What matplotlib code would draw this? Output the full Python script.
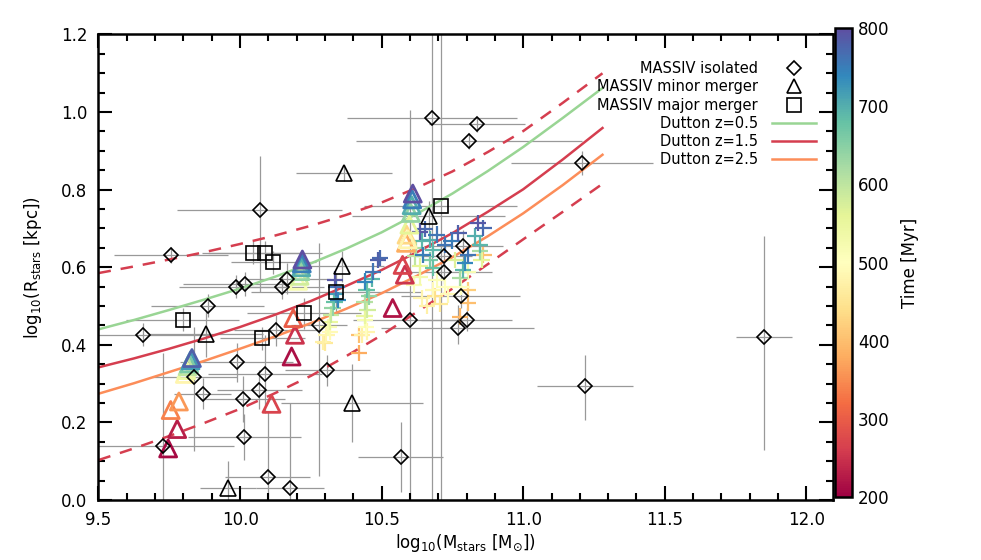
import numpy as np
import matplotlib
matplotlib.use('Agg')
import matplotlib.pyplot as plt
from matplotlib.lines import Line2D
from matplotlib.colors import Normalize
from matplotlib.ticker import MultipleLocator

plt.rcParams['font.family'] = ['DejaVu Sans']
plt.rcParams['mathtext.default'] = 'regular'

# Dutton relations
dutton_m = [9.5, 9.625, 9.75, 9.875, 10.0, 10.125, 10.25, 10.375, 10.5, 10.625,
            10.75, 10.875, 11.0, 11.14, 11.28]
dutton_z05 = [0.44, 0.464, 0.49, 0.517, 0.545, 0.576, 0.61, 0.648, 0.69, 0.738,
              0.79, 0.848, 0.91, 0.985, 1.062]
dutton_z15 = [0.342, 0.365, 0.39, 0.417, 0.446, 0.478, 0.513, 0.552, 0.593, 0.639,
              0.688, 0.743, 0.801, 0.878, 0.959]
dutton_z25 = [0.274, 0.301, 0.33, 0.359, 0.39, 0.422, 0.456, 0.493, 0.533, 0.578,
              0.626, 0.68, 0.739, 0.812, 0.89]
dutton_z15_hi = [0.585, 0.602, 0.62, 0.639, 0.66, 0.682, 0.707, 0.735, 0.767, 0.805,
                 0.847, 0.897, 0.951, 1.024, 1.10]
dutton_z15_lo = [0.103, 0.133, 0.165, 0.199, 0.235, 0.276, 0.32, 0.371, 0.425, 0.485,
                 0.545, 0.608, 0.672, 0.743, 0.815]

# MASSIV isolated: mass, radius, mass error, radius error low / high
iso_m = [9.756, 10.069, 9.985, 10.017, 10.147, 10.167, 9.886, 9.658, 10.127, 10.279,
         9.838, 9.988, 9.868, 10.009, 10.088, 10.068, 10.308, 9.729, 10.015, 10.097,
         10.178, 10.679, 10.838, 10.808, 11.208, 10.788, 10.720, 10.720, 10.779, 10.800,
         10.768, 10.600, 10.568, 11.218, 11.850]
iso_r = [0.632, 0.747, 0.550, 0.557, 0.548, 0.570, 0.501, 0.426, 0.437, 0.452,
         0.316, 0.355, 0.274, 0.260, 0.325, 0.284, 0.334, 0.138, 0.162, 0.060,
         0.030, 0.985, 0.968, 0.925, 0.869, 0.655, 0.628, 0.587, 0.525, 0.465,
         0.443, 0.465, 0.111, 0.295, 0.420]
iso_dm = [0.20, 0.29, 0.20, 0.22, 0.15, 0.15, 0.20, 0.25, 0.15, 0.10,
          0.15, 0.20, 0.10, 0.15, 0.20, 0.15, 0.15, 0.25, 0.20, 0.15,
          0.12, 0.30, 0.17, 0.40, 0.25, 0.14, 0.10, 0.17, 0.21, 0.16,
          0.27, 0.20, 0.15, 0.17, 0.10]
iso_dr_lo = [0.02, 0.21, 0.03, 0.03, 0.03, 0.04, 0.03, 0.03, 0.04, 0.39,
             0.19, 0.05, 0.04, 0.06, 0.10, 0.05, 0.04, 0.14, 0.06, 0.06,
             0.03, 0.985, 0.02, 0.02, 0.03, 0.04, 0.03, 0.03, 0.03, 0.03,
             0.04, 0.47, 0.09, 0.09, 0.29]
iso_dr_hi = [0.02, 0.14, 0.03, 0.03, 0.03, 0.04, 0.03, 0.03, 0.04, 0.21,
             0.13, 0.05, 0.04, 0.06, 0.10, 0.05, 0.04, 0.24, 0.06, 0.17,
             0.22, 0.40, 0.02, 0.02, 0.03, 0.04, 0.03, 0.03, 0.03, 0.03,
             0.06, 0.54, 0.09, 0.08, 0.26]

# MASSIV minor mergers
minor_m = [10.359, 9.880, 9.958, 10.395, 10.367, 10.667]
minor_r = [0.602, 0.428, 0.030, 0.250, 0.843, 0.731]
minor_dm = [0.15, 0.20, 0.10, 0.25, 0.17, 0.27]
minor_dr_lo = [0.04, 0.06, 0.03, 0.10, 0.02, 0.04]
minor_dr_hi = [0.04, 0.06, 0.07, 0.10, 0.02, 0.04]

# MASSIV major mergers
major_m = [10.047, 10.088, 10.117, 9.797, 10.226, 10.078, 10.339, 10.708]
major_r = [0.638, 0.638, 0.613, 0.465, 0.482, 0.417, 0.535, 0.758]
major_dm = [0.18, 0.20, 0.15, 0.20, 0.20, 0.15, 0.30, 0.27]
major_dr_lo = [0.03, 0.03, 0.03, 0.03, 0.04, 0.03, 0.05, 0.758]
major_dr_hi = [0.03, 0.03, 0.03, 0.03, 0.04, 0.03, 0.05, 0.50]

# simulation snapshots shown as triangles (mass, radius, time in Myr)
simtri_m = [9.746, 9.778, 9.755, 9.784, 9.805, 9.810, 9.815, 9.820, 9.825, 9.830,
            10.182, 10.194, 10.188, 10.111, 10.205, 10.210, 10.213, 10.216, 10.218, 10.220,
            10.539, 10.574, 10.582, 10.586, 10.588, 10.592, 10.598, 10.603, 10.606, 10.608, 10.610]
simtri_r = [0.133, 0.183, 0.232, 0.254, 0.325, 0.335, 0.345, 0.352, 0.360, 0.366,
            0.370, 0.426, 0.469, 0.248, 0.565, 0.578, 0.590, 0.600, 0.610, 0.620,
            0.495, 0.606, 0.581, 0.663, 0.684, 0.672, 0.710, 0.740, 0.760, 0.775, 0.790]
simtri_t = [210, 230, 340, 360, 480, 540, 600, 660, 720, 780,
            215, 250, 300, 270, 520, 580, 640, 700, 750, 800,
            220, 270, 250, 380, 430, 480, 560, 640, 700, 750, 800]

# simulation snapshots shown as crosses
simx_m = [10.335, 10.340, 10.338, 10.333, 10.327, 10.322, 10.318, 10.312, 10.305, 10.300,
          10.345, 10.293, 10.317,
          10.488, 10.470, 10.441, 10.465, 10.447, 10.455, 10.440, 10.450, 10.440, 10.441,
          10.445, 10.420, 10.420, 10.430, 10.447, 10.494,
          10.635, 10.653, 10.694, 10.670, 10.641, 10.771, 10.724, 10.747, 10.841, 10.859,
          10.830, 10.847, 10.647, 10.682, 10.670, 10.623, 10.617, 10.635, 10.682, 10.806,
          10.794, 10.788, 10.776, 10.847, 10.853, 10.859, 10.759, 10.635, 10.694, 10.724,
          10.682, 10.641, 10.688, 10.806, 10.806, 10.806, 10.776, 10.782,
          10.660, 10.705, 10.735, 10.615]
simx_r = [0.568, 0.548, 0.530, 0.510, 0.495, 0.478, 0.460, 0.445, 0.425, 0.406,
          0.515, 0.407, 0.433,
          0.619, 0.589, 0.563, 0.570, 0.542, 0.525, 0.510, 0.490, 0.475, 0.465,
          0.445, 0.426, 0.379, 0.426, 0.434, 0.624,
          0.692, 0.699, 0.684, 0.671, 0.667, 0.688, 0.658, 0.667, 0.714, 0.701,
          0.680, 0.658, 0.632, 0.645, 0.619, 0.650, 0.628, 0.602, 0.598, 0.632,
          0.611, 0.594, 0.572, 0.641, 0.619, 0.632, 0.619, 0.576, 0.568, 0.550,
          0.542, 0.521, 0.525, 0.589, 0.542, 0.508, 0.473, 0.550,
          0.500, 0.505, 0.530, 0.555]
simx_t = [790, 760, 720, 680, 640, 590, 550, 520, 480, 460,
          740, 470, 490,
          780, 760, 740, 690, 680, 640, 610, 580, 550, 520,
          500, 400, 380, 470, 480, 770,
          790, 770, 760, 700, 690, 780, 760, 750, 790, 770,
          700, 690, 750, 690, 660, 620, 600, 560, 680, 760,
          740, 690, 620, 620, 560, 400, 570, 530, 510, 500,
          490, 480, 440, 520, 420, 400, 390, 500,
          470, 460, 490, 510]

fig = plt.figure(figsize=(9.81, 5.60), dpi=100)
ax = fig.add_axes([0.1004, 0.1071, 0.7487, 0.8313])
cax = fig.add_axes([0.8512, 0.1125, 0.0176, 0.8375])

norm = Normalize(vmin=200, vmax=800)
cmap = plt.cm.Spectral
ebar = dict(fmt='none', ecolor='0.6', elinewidth=0.9, capsize=0, zorder=1)

ax.errorbar(iso_m, iso_r, xerr=iso_dm, yerr=[iso_dr_lo, iso_dr_hi], **ebar)
ax.errorbar(minor_m, minor_r, xerr=minor_dm, yerr=[minor_dr_lo, minor_dr_hi], **ebar)
ax.errorbar(major_m, major_r, xerr=major_dm, yerr=[major_dr_lo, major_dr_hi], **ebar)

ax.plot(dutton_m, dutton_z05, color='#99d594', lw=1.8, zorder=2)
ax.plot(dutton_m, dutton_z15, color='#d53e4f', lw=1.8, zorder=2)
ax.plot(dutton_m, dutton_z25, color='#fc8d59', lw=1.8, zorder=2)
ax.plot(dutton_m, dutton_z15_hi, color='#d53e4f', lw=1.8, ls=(0, (5, 4)), zorder=2)
ax.plot(dutton_m, dutton_z15_lo, color='#d53e4f', lw=1.8, ls=(0, (5, 4)), zorder=2)

order = np.argsort(simx_t)
ax.scatter(np.array(simx_m)[order], np.array(simx_r)[order], c=np.array(simx_t)[order],
           cmap=cmap, norm=norm, marker='+', s=140, linewidths=1.6, zorder=3)
order = np.argsort(simtri_t)
ax.scatter(np.array(simtri_m)[order], np.array(simtri_r)[order], marker='^', s=150,
           facecolors='none', edgecolors=cmap(norm(np.array(simtri_t)[order])),
           linewidths=2, zorder=3)

ax.plot(iso_m, iso_r, 'D', ms=7.5, mfc='none', mec='black', mew=1.2, zorder=4)
ax.plot(minor_m, minor_r, '^', ms=11, mfc='none', mec='black', mew=1.2, zorder=4)
ax.plot(major_m, major_r, 's', ms=10, mfc='none', mec='black', mew=1.2, zorder=4)

ax.set_xlim(9.5, 12.094)
ax.set_ylim(0.0, 1.2)
ax.xaxis.set_major_locator(MultipleLocator(0.5))
ax.xaxis.set_minor_locator(MultipleLocator(0.1))
ax.yaxis.set_major_locator(MultipleLocator(0.2))
ax.yaxis.set_minor_locator(MultipleLocator(0.05))
ax.xaxis.set_major_formatter(lambda v, p: f'{v:.1f}')
ax.yaxis.set_major_formatter(lambda v, p: f'{v:.1f}')
ax.tick_params(which='both', direction='in', top=True, right=True, width=1.5)
ax.tick_params(which='major', length=10, labelsize=12, pad=8)
ax.tick_params(which='minor', length=5)
for s in ax.spines.values():
    s.set_linewidth(1.8)

ax.set_xlabel(r'log$_{10}$(M$_{stars}$ [M$_{\odot}$])', fontsize=12, labelpad=2)
ax.set_ylabel(r'log$_{10}$(R$_{stars}$ [kpc])', fontsize=12, labelpad=12)

handles = [
    Line2D([], [], ls='none', marker='D', ms=7.5, mfc='none', mec='black', mew=1.2),
    Line2D([], [], ls='none', marker='^', ms=10, mfc='none', mec='black', mew=1.2),
    Line2D([], [], ls='none', marker='s', ms=10, mfc='none', mec='black', mew=1.2),
    Line2D([], [], color='#99d594', lw=1.8),
    Line2D([], [], color='#d53e4f', lw=1.8),
    Line2D([], [], color='#fc8d59', lw=1.8),
]
labels = ['MASSIV isolated', 'MASSIV minor merger', 'MASSIV major merger',
          'Dutton z=0.5', 'Dutton z=1.5', 'Dutton z=2.5']
ax.legend(handles, labels, loc='upper right', bbox_to_anchor=(0.985, 0.955),
          frameon=False, markerfirst=False, fontsize=10.5, handlelength=3.0,
          handletextpad=1.0, labelspacing=0.22, borderaxespad=0)

sm = plt.cm.ScalarMappable(norm=norm, cmap=cmap)
cb = fig.colorbar(sm, cax=cax)
cb.set_ticks([200, 300, 400, 500, 600, 700, 800])
cb.ax.tick_params(length=0, labelsize=12, pad=4)
cb.outline.set_linewidth(1.8)
cb.set_label('Time [Myr]', fontsize=12, labelpad=8)

fig.savefig('out.png', dpi=100)
